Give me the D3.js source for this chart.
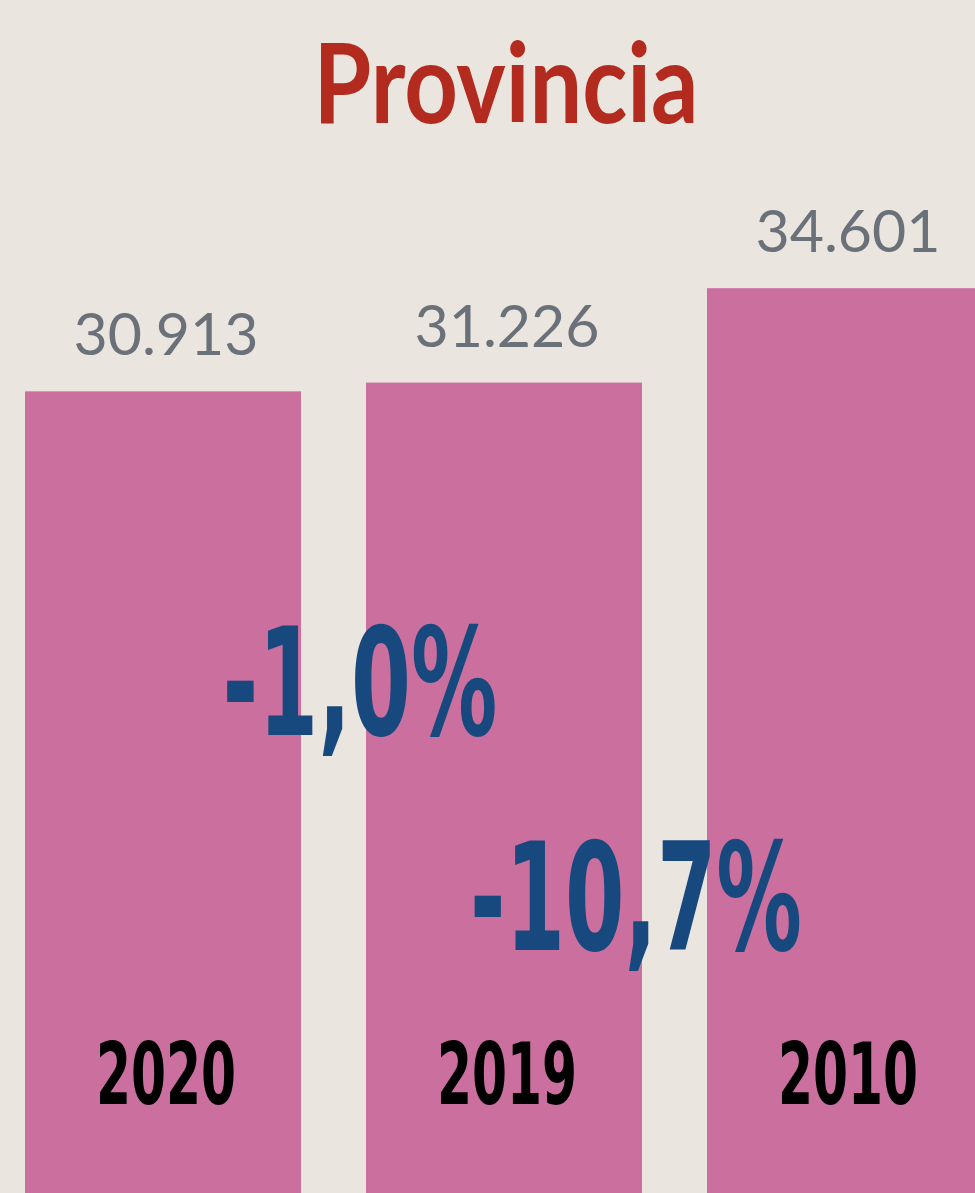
<!DOCTYPE html>
<html>
<head>
<meta charset="utf-8">
<script src="https://cdn.jsdelivr.net/npm/d3@7"></script>
<style>
  html, body { margin: 0; padding: 0; background: #eae5df; overflow: hidden; }
  svg { display: block; }
</style>
</head>
<body>
<div id="chart"></div>
<script>
// Data
const years = ["2020", "2019", "2010"];
const values = [30913, 31226, 34601];
const valueLabels = ["30.913", "31.226", "34.601"];
const changes = ["-1,0%", "-10,7%"];
const title = "Provincia";

const width = 975, height = 1193;

const svg = d3.select("#chart")
    .append("svg")
    .attr("width", width)
    .attr("height", height);

svg.append("rect")
    .attr("width", width)
    .attr("height", height)
    .attr("fill", "#eae5df");

// Scales
const x = d3.scaleBand()
    .domain(years)
    .range([25, 983])
    .paddingInner(0.1906)
    .paddingOuter(0);

const y = d3.scaleLinear()
    .domain([2262, 44900])
    .range([height, 0]);

// Bars
svg.selectAll("rect.bar")
    .data(values)
    .enter()
    .append("rect")
    .attr("class", "bar")
    .attr("x", (d, i) => x(years[i]))
    .attr("y", d => y(d))
    .attr("width", x.bandwidth())
    .attr("height", d => height - y(d))
    .attr("fill", "#cb6f9f");

// Value labels
svg.selectAll("text.value")
    .data(values)
    .enter()
    .append("text")
    .attr("class", "value")
    .attr("x", (d, i) => x(years[i]) + x.bandwidth() / 2 + 3)
    .attr("y", d => y(d) - 36)
    .attr("text-anchor", "middle")
    .attr("font-family", "Lato, 'Open Sans', sans-serif")
    .attr("font-size", 59)
    .attr("fill", "#6b7179")
    .text((d, i) => valueLabels[i]);

// Year labels
svg.selectAll("text.year")
    .data(years)
    .enter()
    .append("text")
    .attr("class", "year")
    .attr("x", d => x(d) + x.bandwidth() / 2 + 3)
    .attr("y", 1104)
    .attr("text-anchor", "middle")
    .attr("font-family", "'Liberation Sans Narrow', 'DejaVu Sans Condensed', sans-serif")
    .attr("font-weight", "bold")
    .attr("font-size", 86)
    .attr("textLength", 140)
    .attr("lengthAdjust", "spacingAndGlyphs")
    .attr("fill", "#000")
    .text(d => d);

// Change labels between bars
const changePos = [
    {cx: x("2019") - 6, by: 735, w: 275},
    {cx: x("2010") - 71, by: 950, w: 332}
];
svg.selectAll("text.change")
    .data(changes)
    .enter()
    .append("text")
    .attr("class", "change")
    .attr("x", (d, i) => changePos[i].cx)
    .attr("y", (d, i) => changePos[i].by)
    .attr("text-anchor", "middle")
    .attr("font-family", "'Liberation Sans Narrow', 'DejaVu Sans Condensed', sans-serif")
    .attr("font-weight", "bold")
    .attr("font-size", 150)
    .attr("textLength", (d, i) => changePos[i].w)
    .attr("lengthAdjust", "spacingAndGlyphs")
    .attr("fill", "#17497f")
    .text(d => d);

// Title
svg.append("text")
    .attr("x", 506)
    .attr("y", 123)
    .attr("text-anchor", "middle")
    .attr("font-family", "Lato, 'Open Sans', sans-serif")
    .attr("font-weight", "bold")
    .attr("font-size", 112)
    .attr("textLength", 385)
    .attr("lengthAdjust", "spacingAndGlyphs")
    .attr("fill", "#b22b1e")
    .text(title);
</script>
</body>
</html>
